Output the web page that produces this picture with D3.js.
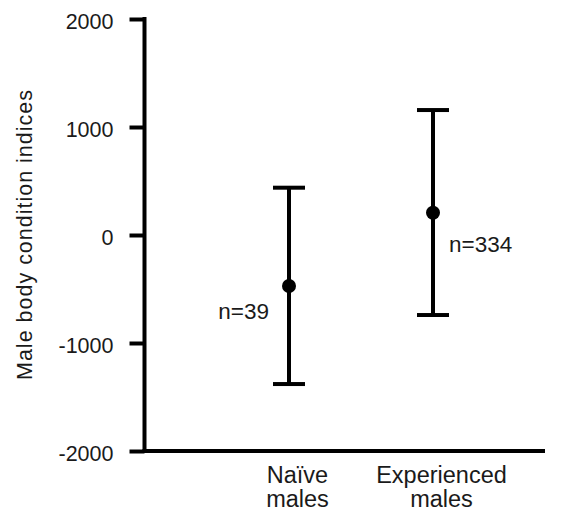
<!DOCTYPE html>
<html><head><meta charset="utf-8">
<script src="https://cdn.jsdelivr.net/npm/d3@7"></script>
<style>body{margin:0;background:#fff}svg{display:block}text{font-family:"Liberation Sans",Arial,sans-serif;fill:#1a1a1a}</style>
</head><body><svg id="c" width="571" height="515"></svg>
<script>
const categories = [["Naïve","males"],["Experienced","males"]];
const means = [-472, 206];
const upper = [438, 1157];
const lower = [-1380, -741];
const nLabels = ["n=39","n=334"];
const yTicks = [-2000,-1000,0,1000,2000];

const svg = d3.select("#c");
const y = d3.scaleLinear().domain([-2000,2000]).range([451,19]);
const x = d3.scalePoint().domain([0,1]).range([289,433]);

// y axis
const yAxis = d3.axisLeft(y).tickValues(yTicks).tickSize(15).tickPadding(16).tickFormat(d => String(d));
const ga = svg.append("g").attr("transform","translate(144.5,0)").call(yAxis);
ga.select(".domain").remove();
ga.selectAll(".tick line").attr("stroke","#000").attr("stroke-width",4);
ga.selectAll(".tick text").attr("font-size",21.5).attr("dy","0.43em").attr("fill","#1a1a1a").attr("font-family","Liberation Sans, Arial, sans-serif");
svg.append("line").attr("x1",144.5).attr("x2",144.5).attr("y1",y(2000)-2).attr("y2",y(-2000)+2).attr("stroke","#000").attr("stroke-width",4);
// x axis line
svg.append("line").attr("x1",142.5).attr("x2",545).attr("y1",y(-2000)).attr("y2",y(-2000)).attr("stroke","#000").attr("stroke-width",4);

// error bars
const g = svg.append("g");
means.forEach((m,i)=>{
  const cx = x(i);
  g.append("line").attr("x1",cx).attr("x2",cx).attr("y1",y(upper[i])).attr("y2",y(lower[i])).attr("stroke","#000").attr("stroke-width",4);
  [upper[i],lower[i]].forEach(v=>{
    g.append("line").attr("x1",cx-16).attr("x2",cx+16).attr("y1",y(v)).attr("y2",y(v)).attr("stroke","#000").attr("stroke-width",4);
  });
  g.append("circle").attr("cx",cx).attr("cy",y(m)).attr("r",7).attr("fill","#000");
});
// n labels
svg.append("text").attr("x",x(0)-20).attr("y",y(means[0])+33).attr("text-anchor","end").attr("font-size",22.5).text(nLabels[0]);
svg.append("text").attr("x",x(1)+16).attr("y",y(means[1])+39).attr("text-anchor","start").attr("font-size",22.5).text(nLabels[1]);

// category labels
categories.forEach((c,i)=>{
  const cx = x(i) + 8.5;
  const t = svg.append("text").attr("x",cx).attr("y",483).attr("text-anchor","middle").attr("font-size",23.5);
  c.forEach((line,j)=>t.append("tspan").attr("x",cx).attr("dy",j?24:0).text(line));
});

// y title
svg.append("text").attr("transform","translate(32,235) rotate(-90)").attr("text-anchor","middle").attr("font-size",21.5)
  .attr("textLength",290).attr("lengthAdjust","spacing").text("Male body condition indices");
</script></body></html>
